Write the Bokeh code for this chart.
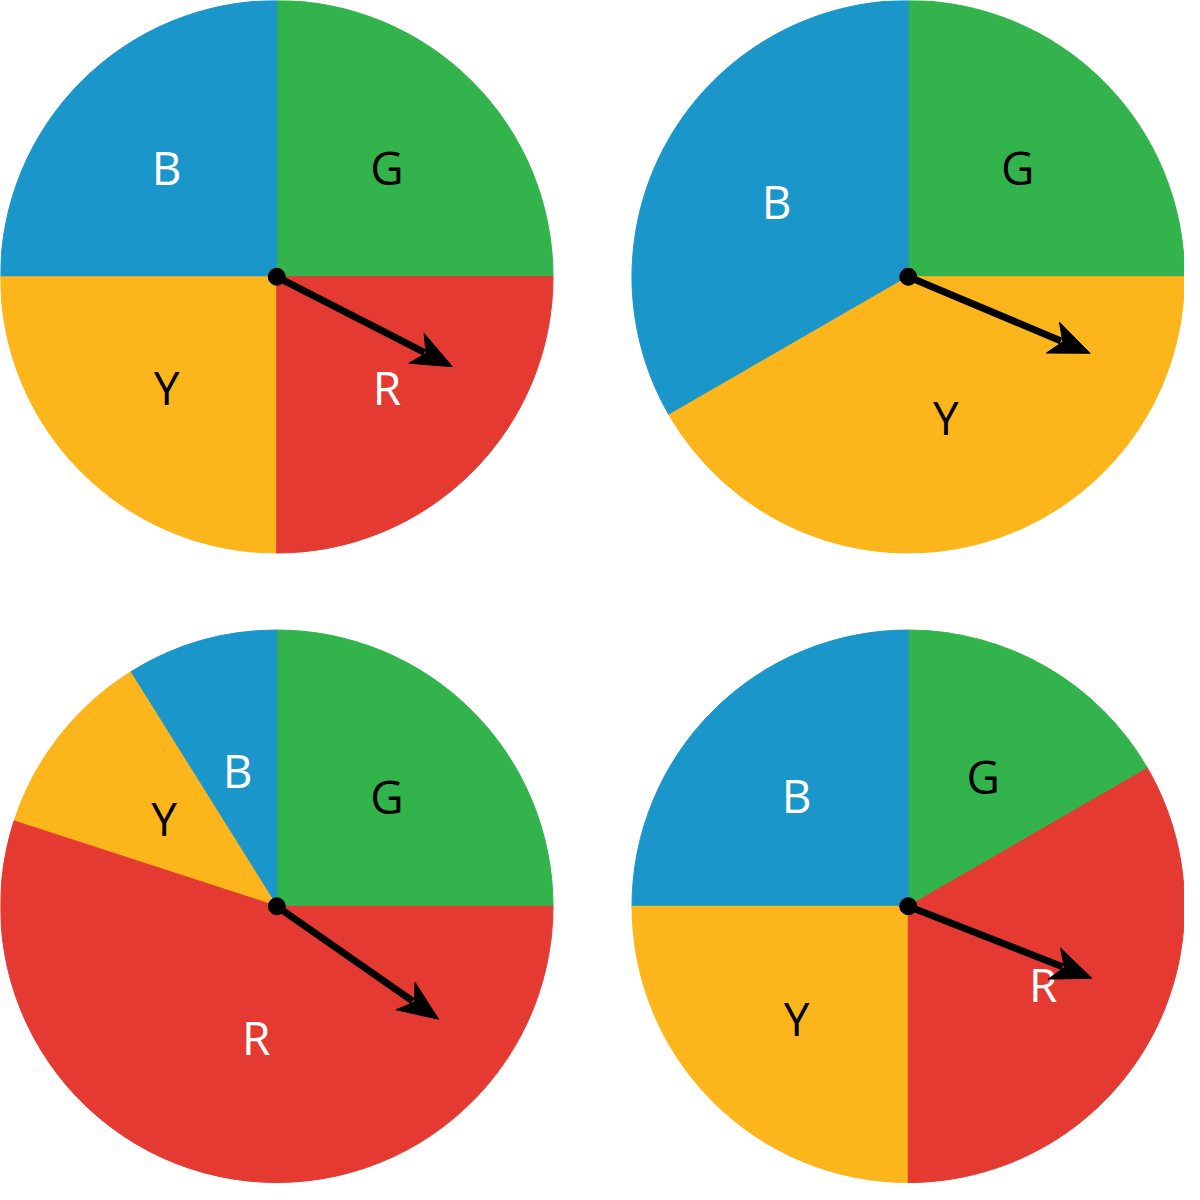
import numpy as np
from bokeh.plotting import figure
from bokeh.models import ColumnDataSource, Range1d
from bokeh.core.properties import value
from bokeh.embed import file_html
from bokeh.resources import INLINE

# --- data -------------------------------------------------------------
# spinner centres (reference pixel coordinates, y measured downward)
spinner_cx = [280, 920, 280, 920]
spinner_cy = [280, 280, 918, 918]
spinner_radius = 280

# sectors: spinner index, label, start angle, end angle (degrees, anticlockwise from east)
sector_spinner = [0, 0, 0, 0, 1, 1, 1, 2, 2, 2, 2, 3, 3, 3, 3]
sector_label = ["G", "B", "Y", "R", "G", "B", "Y", "G", "B", "Y", "R", "G", "B", "Y", "R"]
sector_start = [0, 90, 180, 270, 0, 90, 210, 0, 90, 122, 162, 30, 90, 180, 270]
sector_end = [90, 180, 270, 360, 90, 210, 360, 90, 122, 162, 360, 90, 180, 270, 390]

# arrow direction of each spinner (degrees) and arrow length
arrow_angle = [-27.1, -22.8, -34.9, -21.4]
arrow_length = 200

# --- styles -------------------------------------------------------------
fill = {"B": "#1a96ca", "G": "#33b34b", "Y": "#fcb61c", "R": "#e43a32"}
ink = {"B": "white", "G": "black", "Y": "black", "R": "white"}
label_r = [158, 158, 158, 158, 157, 154, 147, 158, 144, 145, 134, 152, 160, 160, 158]
head_len, head_half, head_notch = 41, 17, 30

H = 1200
cx = np.array([spinner_cx[i] for i in sector_spinner], dtype=float)
cy = np.array([H - spinner_cy[i] for i in sector_spinner], dtype=float)
st = np.radians(sector_start)
en = np.radians(sector_end)
mid = (st + en) / 2
lr = np.array(label_r, dtype=float)

wsrc = ColumnDataSource(dict(
    x=cx, y=cy, start=st, end=en,
    color=[fill[l] for l in sector_label],
    lx=cx + lr * np.cos(mid), ly=cy + lr * np.sin(mid),
    text=sector_label, tcolor=[ink[l] for l in sector_label],
))

p = figure(width=1184, height=1184, output_backend="svg", toolbar_location=None,
           x_range=Range1d(0, 1200), y_range=Range1d(0, 1200), min_border=0)
p.axis.visible = False
p.grid.visible = False
p.outline_line_color = None
p.background_fill_color = "white"

p.wedge(x="x", y="y", radius=spinner_radius, start_angle="start", end_angle="end",
        fill_color="color", line_color="color", line_width=1, source=wsrc)

p.text(x="lx", y="ly", text="text", text_color="tcolor", source=wsrc,
       text_font=value("Open Sans"), text_font_size="46px",
       text_align="center", text_baseline="middle")

# arrows: shaft + notched head
acx = np.array(spinner_cx, dtype=float)
acy = H - np.array(spinner_cy, dtype=float)
aa = np.radians(arrow_angle)
ux, uy = np.cos(aa), np.sin(aa)
nx, ny = -uy, ux
tx, ty = acx + arrow_length * ux, acy + arrow_length * uy
sx, sy = tx - (head_notch + 2) * ux, ty - (head_notch + 2) * uy
p.segment(x0=acx, y0=acy, x1=sx, y1=sy, line_width=7, line_color="black")
hx, hy = [], []
for i in range(len(acx)):
    bx = tx[i] - head_len * ux[i]
    by = ty[i] - head_len * uy[i]
    kx = tx[i] - head_notch * ux[i]
    ky = ty[i] - head_notch * uy[i]
    hx.append([tx[i], bx + head_half * nx[i], kx, bx - head_half * nx[i]])
    hy.append([ty[i], by + head_half * ny[i], ky, by - head_half * ny[i]])
p.patches(xs=hx, ys=hy, fill_color="black", line_color="black", line_width=1)
p.scatter(x=acx, y=acy, size=17, color="black")

open("out.html", "w").write(file_html(p, INLINE))
